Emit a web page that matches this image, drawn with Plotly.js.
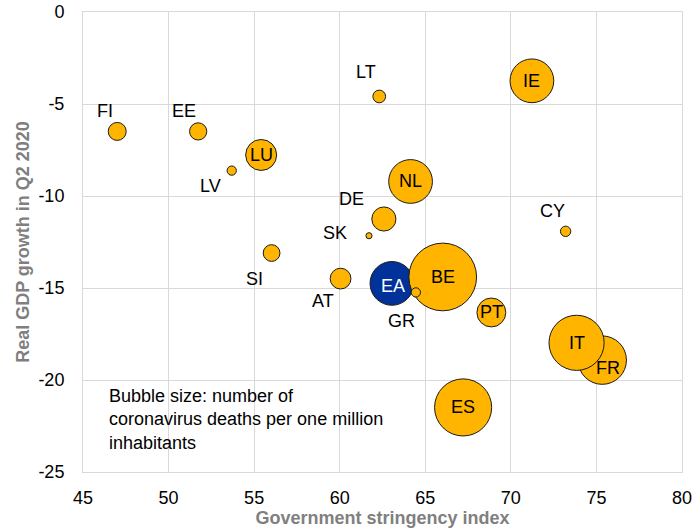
<!DOCTYPE html>
<html>
<head>
<meta charset="utf-8">
<script src="https://cdn.plot.ly/plotly-3.0.1.min.js"></script>
<style>html,body{margin:0;padding:0;background:#fff;}#chart{width:695px;height:531px;}</style>
</head>
<body>
<div id="chart"></div>
<script>
// Data (drawing order matters for overlaps)
const countries = ['FI','EE','LV','LU','SI','LT','IE','NL','DE','SK','CY','AT','EA','BE','GR','PT','FR','IT','ES'];
const stringency = [47.0, 51.73, 53.69, 55.41, 56.02, 62.31, 71.23, 64.14, 62.58, 61.71, 73.20, 60.05, 63.05, 66.02, 64.45, 68.86, 75.34, 73.84, 67.21];
const gdpGrowth = [-6.49, -6.49, -8.62, -7.77, -13.10, -4.59, -3.74, -9.21, -11.25, -12.16, -11.92, -14.49, -14.75, -14.40, -15.24, -16.33, -18.92, -17.98, -21.49];
const deathsPerMillion = [60, 55, 16, 178, 52, 30, 355, 355, 108, 7, 20, 80, 355, 850, 16, 155, 435, 565, 605];
const xTicks = [45, 50, 55, 60, 65, 70, 75, 80];
const yTicks = [0, -5, -10, -15, -20, -25];

// Styling (label placement relative to bubble centre, in px)
const labelShiftX = [-12, -14, -21, 0, -17, -13, 0, 0, -32, -34, -13, -18, 1, 0, -14, 0, 6, 0, 0];
const labelShiftY = [20, 20, -15, 0, -26, 24, 0, 0, 20, 3, 20, -22, -3, 0, -29, 0, -8, 0, 0];
const YELLOW = '#FFB400', BLUE = '#003299';
const colors = countries.map(c => c === 'EA' ? BLUE : YELLOW);
const FONT = 'Liberation Sans, Arial, sans-serif';
const FS = 18;

const trace = {
  type: 'scatter', mode: 'markers',
  x: stringency, y: gdpGrowth,
  marker: {
    size: deathsPerMillion, sizemode: 'area', sizeref: 0.371,
    color: colors, opacity: 1,
    line: {color: '#1a1a1a', width: 1}
  },
  hoverinfo: 'skip', showlegend: false
};

const annotations = countries.map((c, i) => ({
  x: stringency[i], y: gdpGrowth[i], xref: 'x', yref: 'y',
  text: c, showarrow: false, xanchor: 'center', yanchor: 'middle',
  xshift: labelShiftX[i], yshift: labelShiftY[i],
  font: {family: FONT, size: FS, color: c === 'EA' ? '#ffffff' : '#000000'}
}));
annotations.push({
  x: 46.42, y: -20.2, xref: 'x', yref: 'y', xanchor: 'left', yanchor: 'top', align: 'left',
  showarrow: false,
  text: 'Bubble size: number of<br>coronavirus deaths per one million<br>inhabitants',
  font: {family: FONT, size: FS, color: '#000000'}
});

const axisCommon = {
  showgrid: true, gridcolor: '#d9d9d9', gridwidth: 1,
  showline: true, linecolor: '#d9d9d9', linewidth: 1, mirror: true,
  zeroline: false, ticks: '', tickfont: {family: FONT, size: FS, color: '#000000'}
};

const layout = {
  width: 695, height: 531,
  margin: {l: 83, r: 13, t: 12, b: 59},
  paper_bgcolor: '#ffffff', plot_bgcolor: '#ffffff',
  font: {family: FONT},
  xaxis: Object.assign({}, axisCommon, {
    range: [45, 80], tickvals: xTicks, ticktext: xTicks.map(String),
    ticklabelstandoff: 9,
    title: {text: 'Government stringency index', font: {family: FONT, size: FS, color: '#7f7f7f', weight: 'bold'}, standoff: 4}
  }),
  yaxis: Object.assign({}, axisCommon, {
    range: [-25, 0], tickvals: yTicks, ticktext: yTicks.map(String),
    ticklabelstandoff: 14,
    title: {text: 'Real GDP growth in Q2 2020', font: {family: FONT, size: FS, color: '#7f7f7f', weight: 'bold'}, standoff: 4}
  }),
  annotations: annotations
};

Plotly.newPlot('chart', [trace], layout, {staticPlot: true, displayModeBar: false});
</script>
</body>
</html>
